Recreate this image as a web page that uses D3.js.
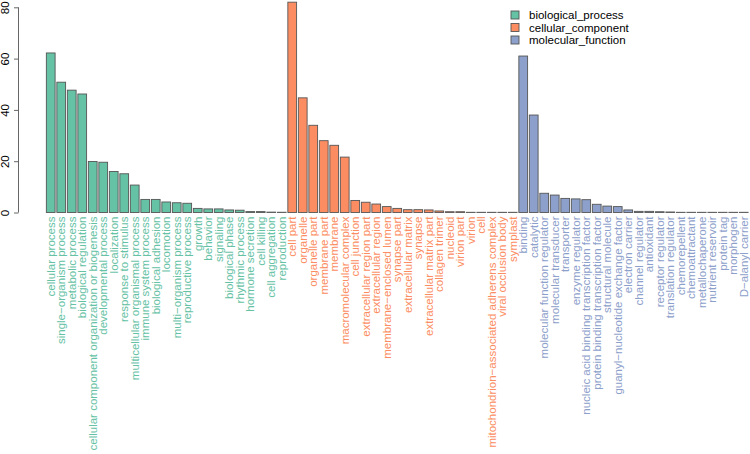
<!DOCTYPE html>
<html>
<head>
<meta charset="utf-8">
<script src="https://cdn.jsdelivr.net/npm/d3@7"></script>
<style>
  html, body { margin: 0; padding: 0; background: #fff; }
  svg { display: block; font-family: "Liberation Sans", Arial, Helvetica, sans-serif; }
</style>
</head>
<body>
<svg id="chart" width="750" height="454"></svg>
<script>
const bpLabels = ["cellular process","single−organism process","metabolic process","biological regulation","cellular component organization or biogenesis","developmental process","localization","response to stimulus","multicellular organismal process","immune system process","biological adhesion","locomotion","multi−organism process","reproductive process","growth","behavior","signaling","biological phase","rhythmic process","hormone secretion","cell killing","cell aggregation","reproduction"];
const bpValues = [62.2,50.8,47.7,46.2,19.9,19.6,16.0,15.1,10.7,5.1,5.1,4.1,3.8,3.6,1.6,1.4,1.4,1.0,0.9,0.35,0.35,0.15,0.1];

const ccLabels = ["cell part","organelle","organelle part","membrane part","membrane","macromolecular complex","cell junction","extracellular region part","extracellular region","membrane−enclosed lumen","synapse part","extracellular matrix","synapse","extracellular matrix part","collagen trimer","nucleoid","virion part","virion","cell","mitochondrion−associated adherens complex","viral occlusion body","symplast"];
const ccValues = [82.0,44.7,34.0,28.0,26.2,21.6,4.7,4.0,3.3,2.3,1.6,1.1,1.1,1.0,0.6,0.3,0.3,0.08,0.08,0.08,0.08,0.08];

const mfLabels = ["binding","catalytic","molecular function regulator","molecular transducer","transporter","enzyme regulator","nucleic acid binding transcription factor","protein binding transcription factor","structural molecule","guanyl−nucleotide exchange factor","electron carrier","channel regulator","antioxidant","receptor regulator","translation regulator","chemorepellent","chemoattractant","metallochaperone","nutrient reservoir","protein tag","morphogen","D−alanyl carrier"];
const mfValues = [61.0,38.0,7.5,6.8,5.5,5.3,5.0,3.2,2.5,2.3,1.0,0.45,0.45,0.3,0.2,0.08,0.08,0.08,0.08,0.08,0.08,0.08];

const groupNames = ["biological_process","cellular_component","molecular_function"];
const groupColors = ["#66C2A5","#FC8D62","#8DA0CB"];
const yTicks = [0,20,40,60,80];

const rows = [];
[[bpLabels,bpValues],[ccLabels,ccValues],[mfLabels,mfValues]].forEach(([labs,vals],g) => {
  labs.forEach((l,i) => rows.push({id: rows.length, label: l, value: vals[i], group: g}));
});

const svg = d3.select("#chart");
const x = d3.scaleBand()
  .domain(rows.map(d => d.id))
  .range([46.35, 748.1])
  .paddingInner(1/6)
  .paddingOuter(0);
const y = d3.scaleLinear().domain([0,80]).range([212.5, 7.3]);
const color = d3.scaleOrdinal().domain([0,1,2]).range(groupColors);

// bars
svg.append("g").selectAll("rect").data(rows).join("rect")
  .attr("x", d => x(d.id))
  .attr("y", d => y(d.value))
  .attr("width", x.bandwidth())
  .attr("height", d => y(0) - y(d.value))
  .attr("fill", d => color(d.group))
  .attr("stroke", "#555")
  .attr("stroke-width", 0.9);

// y axis
const yAxis = d3.axisLeft(y).tickValues(yTicks).tickSize(4.5).tickFormat(d3.format("d"));
const ga = svg.append("g").attr("transform", "translate(18.5,0)").call(yAxis);
ga.select(".domain").attr("stroke", "#666").attr("d", `M0,${y(0)}V${y(80)}`);
ga.selectAll(".tick line").attr("stroke", "#666");
ga.selectAll(".tick text")
  .attr("x", 0).attr("dy", null)
  .attr("transform", d => `translate(-10,${0}) rotate(-90)`)
  .attr("text-anchor", "middle")
  .attr("font-size", "11.5px")
  .attr("font-family", "Liberation Sans, Arial, sans-serif")
  .attr("fill", "#000");

// x labels
svg.append("g").selectAll("text").data(rows).join("text")
  .attr("transform", d => `translate(${x(d.id) + x.bandwidth()/2 + 3.8},216.5) rotate(-90)`)
  .attr("text-anchor", "end")
  .attr("font-size", "11.5px")
  .attr("fill", d => color(d.group))
  .text(d => d.label);

// legend
const lg = svg.append("g");
groupNames.forEach((n,i) => {
  const cy = 15 + i*12.5;
  lg.append("rect").attr("x", 511).attr("y", cy - 4).attr("width", 8).attr("height", 8)
    .attr("fill", groupColors[i]).attr("stroke", "#555").attr("stroke-width", 0.9);
  lg.append("text").attr("x", 529).attr("y", cy + 4).attr("font-size", "11.5px")
    .attr("fill", "#000").text(n);
});
</script>
</body>
</html>
